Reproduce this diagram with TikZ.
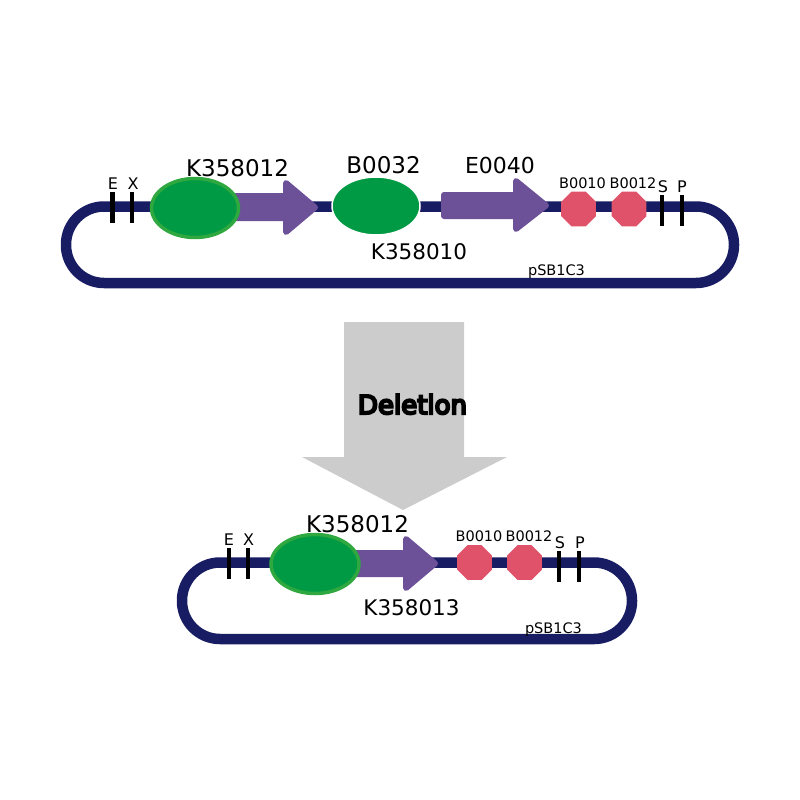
\documentclass[tikz,border=0pt]{standalone}
\usepackage{fontspec}
\setmainfont{DejaVu Sans}
\newfontfamily\delfont[FakeBold=8]{DejaVu Sans}
\usetikzlibrary{shapes.geometric}
\definecolor{navy}{HTML}{171C63}
\definecolor{gfill}{HTML}{009A44}
\definecolor{gline}{HTML}{2FA83F}
\definecolor{purp}{HTML}{6C5198}
\definecolor{oct}{HTML}{E0526A}
\definecolor{greyarrow}{HTML}{CCCCCC}
\tikzset{
  x=1pt,y=-1pt,
  backbone/.style={draw=navy,line width=10.5pt,rounded corners=38pt},
  tick/.style={draw=black,line width=4.3pt},
  rbs/.style={shape=ellipse,fill=gfill,inner sep=0pt},
  promoter/.style={rbs,draw=gline,line width=3.5pt,minimum width=87pt,minimum height=59pt},
  plainrbs/.style={rbs,draw=white,line width=1.5pt,minimum width=88pt,minimum height=58pt},
  cds/.style={fill=purp,draw=purp,line width=6pt,line join=round},
  term/.style={shape=regular polygon,regular polygon sides=8,fill=oct,inner sep=0pt,minimum size=37.5pt},
  big/.style={anchor=base,font=\fontsize{23}{23}\selectfont,inner sep=0pt},
  mid/.style={anchor=base,font=\fontsize{21.5}{22}\selectfont,inner sep=0pt},
  small/.style={anchor=base,font=\fontsize{14.5}{15}\selectfont,inner sep=0pt},
  site/.style={anchor=base,font=\fontsize{16}{16}\selectfont,inner sep=0pt},
}
\begin{document}
\begin{tikzpicture}
\useasboundingbox (0,0) rectangle (800,800);
% deletion arrow
\fill[greyarrow] (344,322) -- (464,322) -- (464,457) -- (507,457) -- (403,510) -- (302,457) -- (344,457) -- cycle;
\node[anchor=base,inner sep=0pt,font=\delfont\fontsize{26}{26}\selectfont] (del) at (412.5,414) {Deletion};
% top plasmid
\draw[backbone] (400,206.5) -- (66,206.5) -- (66,283) -- (734,283) -- (734,206.5) -- cycle;
\draw[tick] (112.5,192) -- (112.5,223);
\draw[tick] (132,192) -- (132,223);
\draw[tick] (662,195) -- (662,226);
\draw[tick] (682,195) -- (682,226);
\draw[cds] (230,196) -- (286,196) -- (286,183) -- (315,207.5) -- (286,232) -- (286,218) -- (230,218) -- cycle;
\draw[cds] (444,195) -- (516,195) -- (516,181) -- (546,205.5) -- (516,229) -- (516,216) -- (444,216) -- cycle;
\node[promoter] (p1) at (195,208) {};
\node[plainrbs] (r1) at (376,206) {};
\node[term] (t1) at (578.5,209) {};
\node[term] (t2) at (629,209) {};
\node[big] (l1) at (237.5,176) {K358012};
\node[big] (l2) at (383.5,173.5) {B0032};
\node[big,font=\fontsize{22}{22}\selectfont] (l3) at (500,173) {E0040};
\node[mid] (l4) at (419,259) {K358010};
\node[small] (l5) at (582.5,188) {B0010};
\node[small] (l6) at (633,188) {B0012};
\node[site] (l7) at (663,192) {S};
\node[site] (l8) at (682,192) {P};
\node[site] (l9) at (113,189) {E};
\node[site] (l10) at (133,189) {X};
\node[small] (l11) at (556.5,275) {pSB1C3};
% bottom plasmid
\draw[backbone] (400,562.5) -- (182,562.5) -- (182,639) -- (632,639) -- (632,562.5) -- cycle;
\draw[tick] (229,548) -- (229,579);
\draw[tick] (248,548) -- (248,579);
\draw[tick] (559,551) -- (559,582);
\draw[tick] (579,551) -- (579,582);
\draw[cds] (350,553) -- (406,553) -- (406,539) -- (435,563.5) -- (406,588) -- (406,574) -- (350,574) -- cycle;
\node[promoter,minimum width=88pt] (p2) at (315,564) {};
\node[term] (t3) at (474.5,562.5) {};
\node[term] (t4) at (524.5,562.5) {};
\node[big] (m1) at (357.5,532) {K358012};
\node[mid] (m2) at (411.5,615) {K358013};
\node[small] (m3) at (479,541) {B0010};
\node[small] (m4) at (529,541) {B0012};
\node[site] (m5) at (560,548) {S};
\node[site] (m6) at (580,548) {P};
\node[site] (m7) at (229,545) {E};
\node[site] (m8) at (248.5,545) {X};
\node[small] (m9) at (553.5,633) {pSB1C3};
\end{tikzpicture}
\end{document}
